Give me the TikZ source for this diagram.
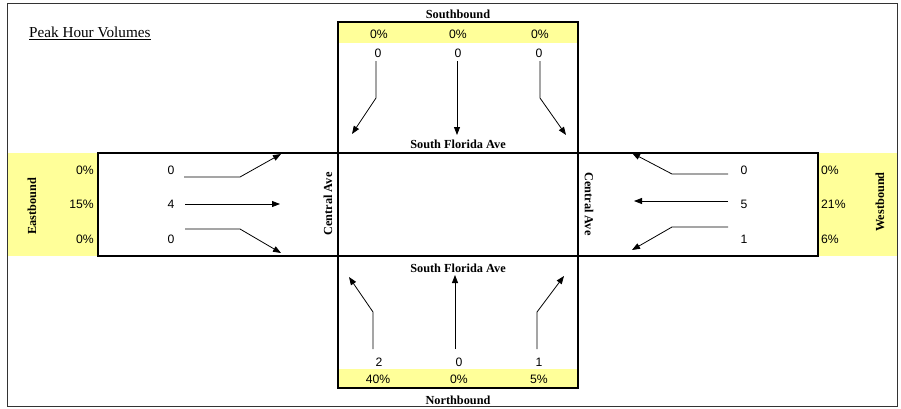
\documentclass[tikz,border=0pt]{standalone}
\usepackage{fontspec}
\setmainfont{Liberation Serif}
\newfontfamily\arialf{Liberation Sans}
\usetikzlibrary{arrows.meta}
\definecolor{hly}{RGB}{255,255,153}
\begin{document}
\begin{tikzpicture}[x=1pt,y=-1pt,
  num/.style={font=\arialf\fontsize{12.2}{14}\selectfont, inner sep=0pt},
  lab/.style={font=\bfseries\fontsize{12.3}{14}\selectfont, inner sep=0pt},
  mv/.style={line width=0.8pt, -{Triangle[length=8pt,width=6pt]}},
  heavy/.style={line width=2.2pt},
  band/.style={fill=hly, draw=none},
]
\useasboundingbox (0,0) rectangle (901,408);
% yellow bands
\fill[band] (338,22) rectangle (578,43);
\fill[band] (338,369) rectangle (578,388);
\fill[band] (7,153) rectangle (98,256);
\fill[band] (818,153) rectangle (897,256);
% outer frame
\draw[line width=1pt, black!80] (7,3) rectangle (897,406);
% road boxes
\draw[heavy] (338,22) rectangle (578,388);
\draw[heavy] (98,153) rectangle (818,256);

% title
\node[anchor=west, inner sep=0pt, font=\fontsize{15.2}{17}\selectfont] (title) at (29,33) {\underline{Peak Hour Volumes}};

% street labels
\node[lab] (sb) at (458,14) {Southbound};
\node[lab] (nb) at (458,400) {Northbound};
\node[lab] (sfa1) at (458,144) {South Florida Ave};
\node[lab] (sfa2) at (458,268) {South Florida Ave};
\node[lab, rotate=90] (eb) at (32,206) {Eastbound};
\node[lab, rotate=90] (wb) at (880,202) {Westbound};
\node[lab, rotate=90] (ca1) at (328,204) {Central Ave};
\node[lab, rotate=-90] (ca2) at (589,204) {Central Ave};

% southbound
\node[num] (sbp1) at (379,34) {0\%};
\node[num] (sbp2) at (458,34) {0\%};
\node[num] (sbp3) at (540,34) {0\%};
\node[num] (sbv1) at (378,53) {0};
\node[num] (sbv2) at (458,53) {0};
\node[num] (sbv3) at (539,53) {0};
\coordinate (sbl) at (352,134);
\coordinate (sbt) at (457,135);
\coordinate (sbr) at (566,135);
\draw[mv] (376,61) -- (376,98) -- (sbl);
\draw[mv] (457,61) -- (sbt);
\draw[mv] (540,61) -- (540,98) -- (sbr);

% northbound
\node[num] (nbp1) at (378,379) {40\%};
\node[num] (nbp2) at (459,379) {0\%};
\node[num] (nbp3) at (539,379) {5\%};
\node[num] (nbv1) at (379,362) {2};
\node[num] (nbv2) at (459,362) {0};
\node[num] (nbv3) at (539,362) {1};
\coordinate (nbl) at (349,277);
\coordinate (nbt) at (455,275);
\coordinate (nbr) at (564,276);
\draw[mv] (373,349) -- (373,312) -- (nbl);
\draw[mv] (455,349) -- (nbt);
\draw[mv] (537,349) -- (537,312) -- (nbr);

% eastbound
\node[num, anchor=east] (ebp1) at (94,170) {0\%};
\node[num, anchor=east] (ebp2) at (94,204) {15\%};
\node[num, anchor=east] (ebp3) at (94,239) {0\%};
\node[num] (ebv1) at (171,170) {0};
\node[num] (ebv2) at (171,204) {4};
\node[num] (ebv3) at (171,239) {0};
\coordinate (ebl) at (281,154);
\coordinate (ebt) at (280,204);
\coordinate (ebr) at (281,253);
\draw[mv] (184,177) -- (240,177) -- (ebl);
\draw[mv] (185,204) -- (ebt);
\draw[mv] (185,229) -- (240,229) -- (ebr);

% westbound
\node[num, anchor=west] (wbp1) at (821,170) {0\%};
\node[num, anchor=west] (wbp2) at (821,204) {21\%};
\node[num, anchor=west] (wbp3) at (821,239) {6\%};
\node[num] (wbv1) at (744,170) {0};
\node[num] (wbv2) at (744,204) {5};
\node[num] (wbv3) at (744,239) {1};
\coordinate (wbr) at (632,153);
\coordinate (wbt) at (634,201);
\coordinate (wbl) at (632,250);
\draw[mv] (728,174) -- (672,174) -- (wbr);
\draw[mv] (728,201) -- (wbt);
\draw[mv] (728,227) -- (672,227) -- (wbl);
\end{tikzpicture}
\end{document}
